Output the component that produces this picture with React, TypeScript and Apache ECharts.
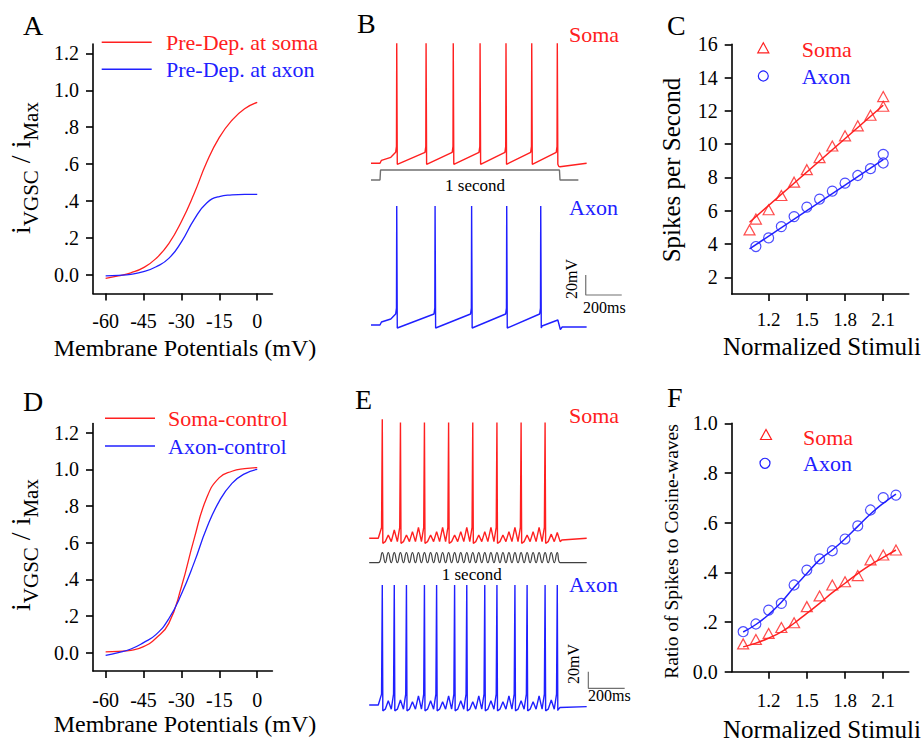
import React, { useEffect, useRef } from 'react';
import * as echarts from 'echarts';

const FONT = "'Liberation Serif', 'Times New Roman', Times, serif";
const RED = '#ff2020';
const BLUE = '#2020ff';
const GRAY = '#707070';

// ---------- Panel A & D (activation curves) ----------
const membraneV = [-60, -55, -50, -45, -40, -35, -30, -25, -20, -15, -10, -5, 0];
const aSomaPreDep = [-0.018, -0.005, 0.012, 0.04, 0.09, 0.17, 0.29, 0.44, 0.61, 0.745, 0.838, 0.9, 0.935];
const aAxonPreDep = [-0.005, -0.002, 0.004, 0.018, 0.045, 0.09, 0.18, 0.3, 0.39, 0.425, 0.434, 0.437, 0.437];
const dSomaControl = [0.004, 0.007, 0.013, 0.033, 0.08, 0.16, 0.36, 0.62, 0.845, 0.955, 0.99, 1.004, 1.01];
const dAxonControl = [-0.015, 0.0, 0.02, 0.055, 0.1, 0.185, 0.32, 0.49, 0.68, 0.827, 0.924, 0.976, 1.0];
const mvTicks = [-60, -45, -30, -15, 0];
const iTicks = [0, 0.2, 0.4, 0.6, 0.8, 1.0, 1.2];

// ---------- Panel C (spikes per second) ----------
const cSomaX = [1.05, 1.1, 1.2, 1.3, 1.4, 1.5, 1.6, 1.7, 1.8, 1.9, 2.0, 2.1, 2.1];
const cSomaY = [4.85, 5.5, 6.06, 6.92, 7.72, 8.47, 9.19, 9.89, 10.5, 11.1, 11.74, 12.28, 12.86];
const cAxonX = [1.1, 1.2, 1.3, 1.4, 1.5, 1.6, 1.7, 1.8, 1.9, 2.0, 2.1, 2.1];
const cAxonY = [3.85, 4.37, 5.05, 5.65, 6.22, 6.7, 7.18, 7.66, 8.12, 8.53, 8.87, 9.39];
const cSomaFitX = [1.05, 2.1];
const cSomaFitY = [5.31, 12.34];
const cAxonFitX = [1.05, 2.1];
const cAxonFitY = [3.71, 9.07];
const spsTicks = [2, 4, 6, 8, 10, 12, 14, 16];
const stimTicks = [1.2, 1.5, 1.8, 2.1];

// ---------- Panel F (ratio of spikes to cosine waves) ----------
const fX = [1.0, 1.1, 1.2, 1.3, 1.4, 1.5, 1.6, 1.7, 1.8, 1.9, 2.0, 2.1, 2.2];
const fSoma = [0.112, 0.13, 0.154, 0.178, 0.197, 0.262, 0.305, 0.349, 0.362, 0.387, 0.45, 0.47, 0.49];
const fAxon = [0.161, 0.192, 0.248, 0.275, 0.349, 0.409, 0.454, 0.487, 0.534, 0.587, 0.651, 0.701, 0.711];
const fSomaFit = [0.1, 0.115, 0.135, 0.16, 0.195, 0.235, 0.275, 0.318, 0.356, 0.395, 0.43, 0.46, 0.49];
const fAxonFit = [0.16, 0.19, 0.23, 0.28, 0.34, 0.395, 0.45, 0.49, 0.535, 0.585, 0.635, 0.678, 0.715];
const ratioTicks = [0, 0.2, 0.4, 0.6, 0.8, 1.0];

// ---------- Panel B (step-current traces, ms / mV) ----------
const bSomaSpikes = [93, 256, 407, 556, 700, 843, 985];
const bAxonSpikes = [93, 306, 509, 704, 893];
const bSomaHead = [[-50, -65], [0, -65], [8, -62], [60, -59]];
const bSomaTail = [[993, -68], [1000, -68.5], [1148, -65]];
const bAxonHead = [[-50, -65], [0, -65], [8, -62], [60, -59]];
const bAxonTail = [[900, -66], [988, -60], [1002, -69.5], [1012, -67], [1148, -67]];
const bStep = [[-50, 0], [0, 0], [3, 1], [997, 1], [1000, 0], [1102, 0]];
const bScaleBar = [[1143, -15], [1143, -35], [1343, -35]];

// ---------- Panel E (cosine-wave stimulus traces, ms / mV) ----------
const eCycleTimes = [22, 55, 88, 122, 155, 188, 221, 254, 288, 321, 354, 387, 420, 454, 487, 520, 553, 586, 620, 653, 686, 719, 752, 786, 819, 852, 885, 918, 952, 985];
const eSomaPeaks = [78, -61, -55, 74, -61, -57, -52, 74, -61, -57, -52, 74, -61, -57, -52, 74, -61, -57, -52, 74, -61, -57, -52, 74, -61, -57, -52, 74, -60, -58];
const eAxonPeaks = [79, -60, 79, -59, 79, -61, -54, 79, -60, 79, -61, -54, 79, -60, 79, -61, -54, 79, -60, 79, -61, -54, 79, -60, 79, -61, -54, 79, -59, 79];
const eHead = [[-50, -65], [0, -65]];
const eSomaTail = [[1001, -69], [1010, -67], [1147, -65]];
const eAxonTail = [[988, -71], [1000, -68], [1147, -67]];
const eStimHead = [[-50, 0], [0, 0]];
const eStimTail = [[1002, 0], [1147, 0]];
const eScaleBar = [[1156, -25], [1156, -45], [1356, -45]];

const pairs = (xs: number[], ys: number[]) => xs.map((x, i) => [x, ys[i]]);

function buildStepTrace(head: number[][], spikes: number[], peak: number, pre: number, trough: number, tail: number[][]) {
  const pts = head.map((p) => p.slice());
  spikes.forEach((s) => {
    pts.push([s - 6, pre - 1], [s - 1.5, pre + 5], [s, peak], [s + 3, trough]);
  });
  return pts.concat(tail);
}

function buildCycleTrace(head: number[][], times: number[], peaks: number[], trough: number, spikeTrough: number, tail: number[][]) {
  const pts = head.map((p) => p.slice());
  times.forEach((t, k) => {
    const p = peaks[k];
    if (p > 0) pts.push([t - 4, -52], [t, p], [t + 3, spikeTrough]);
    else pts.push([t, p]);
    if (k < times.length - 1) pts.push([(t + times[k + 1]) / 2, trough]);
  });
  return pts.concat(tail);
}

function buildStim(head: number[][], times: number[], tail: number[][]) {
  const pts = head.map((p) => p.slice());
  times.forEach((t, k) => {
    pts.push([t, 1]);
    if (k < times.length - 1) pts.push([(t + times[k + 1]) / 2, 0]);
  });
  return pts.concat(tail);
}

const decimalLabel = (v: number) => {
  const s = v.toFixed(1);
  return v > 0 && v < 1 ? s.slice(1) : s;
};

function visibleAxis(gridIndex: number, min: number, max: number, ticks: number[], fmt: (v: number) => string, margin: number, size = 20) {
  return {
    type: 'value',
    gridIndex,
    min,
    max,
    axisLine: { show: true, onZero: false, lineStyle: { color: '#000', width: 1.6 } },
    axisTick: { show: true, inside: false, length: 7, customValues: ticks, lineStyle: { color: '#000', width: 1.6 } },
    axisLabel: { show: true, customValues: ticks, formatter: fmt, margin, fontFamily: FONT, fontSize: size, color: '#000' },
    splitLine: { show: false },
  };
}
function hiddenAxis(gridIndex: number, min: number, max: number) {
  return { type: 'value', gridIndex, min, max, show: false, splitLine: { show: false } };
}

function lineSeries(data: number[][], idx: number, color: string, width: number, smooth: boolean | number = false) {
  return {
    type: 'line',
    data,
    xAxisIndex: idx,
    yAxisIndex: idx,
    showSymbol: false,
    symbol: 'none',
    smooth,
    lineStyle: { color, width },
    silent: true,
    z: 3,
  };
}
function scatterSeries(data: number[][], idx: number, symbol: string, color: string, size: any) {
  return {
    type: 'scatter',
    data,
    xAxisIndex: idx,
    yAxisIndex: idx,
    symbol,
    symbolSize: size,
    itemStyle: { color: 'rgba(0,0,0,0)', borderColor: color, borderWidth: 1.2 },
    silent: true,
    z: 4,
  };
}

function txt(text: string, x: number, y: number, size: number, color = '#000', align = 'left', rotation = 0) {
  return {
    type: 'text',
    x,
    y,
    rotation,
    silent: true,
    style: { text, fontFamily: FONT, fontSize: size, fill: color, align, verticalAlign: 'middle' },
  };
}
function hline(x1: number, y1: number, x2: number, y2: number, color: string) {
  return { type: 'line', silent: true, shape: { x1, y1, x2, y2 }, style: { stroke: color, lineWidth: 1.4 } };
}
function tri(cx: number, cy: number, color: string) {
  return { type: 'polygon', silent: true, shape: { points: [[cx, cy - 5.5], [cx - 5.5, cy + 4.5], [cx + 5.5, cy + 4.5]] }, style: { fill: 'none', stroke: color, lineWidth: 1.2 } };
}
function circ(cx: number, cy: number, color: string) {
  return { type: 'circle', silent: true, shape: { cx, cy, r: 5 }, style: { fill: 'none', stroke: color, lineWidth: 1.2 } };
}
function iTitle(x: number, y: number) {
  return {
    type: 'text',
    x,
    y,
    rotation: Math.PI / 2,
    silent: true,
    style: {
      text: '{m|i}{s|VGSC}{m| / i}{s|Max}',
      align: 'center',
      verticalAlign: 'middle',
      fill: '#000',
      rich: {
        m: { fontFamily: FONT, fontSize: 28, fill: '#000', color: '#000', verticalAlign: 'bottom', padding: [0, 0, 7, 0] },
        s: { fontFamily: FONT, fontSize: 21, fill: '#000', color: '#000', verticalAlign: 'bottom' },
      },
    },
  };
}

export default function App() {
  const ref = useRef<HTMLDivElement>(null);
  useEffect(() => {
    document.body.style.margin = '0';
    if (!ref.current) return;
    const chart = echarts.init(ref.current, null, { renderer: 'svg' });

    const grid = (left: number, top: number, width: number, height: number) => ({ left, top, width, height, containLabel: false, outerBoundsMode: 'none' });
    const grids = [
      grid(93, 44.1, 179.4, 249.4), // 0 A
      grid(93, 423.6, 179.4, 247.4), // 1 D
      grid(731.7, 44.3, 177, 249.7), // 2 C
      grid(731.7, 423.3, 177, 248.4), // 3 F
      grid(371, 38.3, 252, 135), // 4 B soma
      grid(371, 165, 252, 20), // 5 B stim
      grid(371, 200, 252, 135), // 6 B axon
      grid(369.2, 417.5, 256.2, 133.3), // 7 E soma
      grid(369.2, 547.7, 256.2, 20), // 8 E stim
      grid(369.2, 580, 256.2, 137.5), // 9 E axon
    ];
    const mvFmt = (v: number) => String(v);
    const intFmt = (v: number) => String(v);
    const stimFmt = (v: number) => v.toFixed(1);

    const xAxis = [
      visibleAxis(0, -65, 6, mvTicks, mvFmt, 17),
      visibleAxis(1, -65, 6, mvTicks, mvFmt, 19),
      visibleAxis(2, 0.91, 2.3, stimTicks, stimFmt, 16, 19),
      visibleAxis(3, 0.91, 2.3, stimTicks, stimFmt, 19, 19),
      hiddenAxis(4, -50, 1350),
      hiddenAxis(5, -50, 1350),
      hiddenAxis(6, -50, 1350),
      hiddenAxis(7, -50, 1360),
      hiddenAxis(8, -50, 1360),
      hiddenAxis(9, -50, 1360),
    ];
    const yAxis = [
      visibleAxis(0, -0.1, 1.25, iTicks, decimalLabel, 14),
      visibleAxis(1, -0.1, 1.25, iTicks, decimalLabel, 14),
      visibleAxis(2, 1, 16, spsTicks, intFmt, 14),
      visibleAxis(3, 0, 1, ratioTicks, decimalLabel, 14),
      hiddenAxis(4, -75, 60),
      hiddenAxis(5, -0.5, 1.5),
      hiddenAxis(6, -75, 60),
      hiddenAxis(7, -80, 80),
      hiddenAxis(8, -0.5, 1.5),
      hiddenAxis(9, -80, 85),
    ];

    const series = [
      lineSeries(pairs(membraneV, aSomaPreDep), 0, RED, 1.3, true),
      lineSeries(pairs(membraneV, aAxonPreDep), 0, BLUE, 1.3, true),
      lineSeries(pairs(membraneV, dSomaControl), 1, RED, 1.3, true),
      lineSeries(pairs(membraneV, dAxonControl), 1, BLUE, 1.3, true),
      lineSeries(pairs(cSomaFitX, cSomaFitY), 2, RED, 1.5),
      lineSeries(pairs(cAxonFitX, cAxonFitY), 2, BLUE, 1.5),
      scatterSeries(pairs(cSomaX, cSomaY), 2, 'triangle', RED, [11, 10]),
      scatterSeries(pairs(cAxonX, cAxonY), 2, 'circle', BLUE, 10),
      lineSeries(pairs(fX, fSomaFit), 3, RED, 1.5, true),
      lineSeries(pairs(fX, fAxonFit), 3, BLUE, 1.5, true),
      scatterSeries(pairs(fX, fSoma), 3, 'triangle', RED, [11, 10]),
      scatterSeries(pairs(fX, fAxon), 3, 'circle', BLUE, 10),
      lineSeries(buildStepTrace(bSomaHead, bSomaSpikes, 55, -53, -66, bSomaTail), 4, RED, 1.4),
      lineSeries(bStep, 5, GRAY, 1.4),
      lineSeries(buildStepTrace(bAxonHead, bAxonSpikes, 54, -53, -68, bAxonTail), 6, BLUE, 1.4),
      lineSeries(bScaleBar, 6, GRAY, 1.2),
      lineSeries(buildCycleTrace(eHead, eCycleTimes, eSomaPeaks, -69, -71, eSomaTail), 7, RED, 1.4),
      lineSeries(buildStim(eStimHead, eCycleTimes, eStimTail), 8, '#404040', 1.2, true),
      lineSeries(buildCycleTrace(eHead, eCycleTimes, eAxonPeaks, -70, -72, eAxonTail), 9, BLUE, 1.4),
      lineSeries(eScaleBar, 9, GRAY, 1.2),
    ];

    const elements: any[] = [
      // panel letters
      txt('A', 23, 25, 28),
      txt('B', 357, 23, 28),
      txt('C', 667, 25, 28),
      txt('D', 23, 401, 28),
      txt('E', 355, 399, 28),
      txt('F', 667, 397, 28),
      // legend A
      hline(101.7, 42.3, 151.7, 42.3, RED),
      hline(101.7, 69.3, 151.7, 69.3, BLUE),
      txt('Pre-Dep. at soma', 166, 42.5, 22, RED),
      txt('Pre-Dep. at axon', 166, 69.5, 22, BLUE),
      // legend D
      hline(105, 418.3, 155, 418.3, RED),
      hline(105, 446, 155, 446, BLUE),
      txt('Soma-control', 168, 418.5, 22, RED),
      txt('Axon-control', 168, 446, 22, BLUE),
      // legend C
      tri(763.3, 48.3, RED),
      circ(763.3, 76, BLUE),
      txt('Soma', 801.7, 49, 22, RED),
      txt('Axon', 801.7, 76, 22, BLUE),
      // legend F
      tri(766, 435, RED),
      circ(765, 463.3, BLUE),
      txt('Soma', 803, 437, 22, RED),
      txt('Axon', 803, 463.5, 22, BLUE),
      // trace labels B
      txt('Soma', 569, 34, 22, RED),
      txt('Axon', 569, 207, 22, BLUE),
      txt('1 second', 475, 185, 17, '#000', 'center'),
      txt('20mV', 571.5, 279, 16, '#000', 'center', Math.PI / 2),
      txt('200ms', 583, 307, 16),
      // trace labels E
      txt('Soma', 569, 415.5, 22, RED),
      txt('Axon', 569, 584.5, 22, BLUE),
      txt('1 second', 471.7, 574, 17, '#000', 'center'),
      txt('20mV', 573, 664, 16, '#000', 'center', Math.PI / 2),
      txt('200ms', 588, 695, 16),
      // axis titles
      txt('Membrane Potentials (mV)', 185, 348, 24, '#000', 'center'),
      txt('Membrane Potentials (mV)', 185, 724, 24, '#000', 'center'),
      txt('Normalized Stimuli', 822, 346, 25, '#000', 'center'),
      txt('Normalized Stimuli', 822, 729, 25, '#000', 'center'),
      txt('Spikes per Second', 671, 170, 25, '#000', 'center', Math.PI / 2),
      txt('Ratio of Spikes to Cosine-waves', 671.5, 551.5, 19.5, '#000', 'center', Math.PI / 2),
      iTitle(24, 168),
      iTitle(24, 545),
    ];

    chart.setOption({
      animation: false,
      backgroundColor: '#fff',
      grid: grids,
      xAxis,
      yAxis,
      series,
      graphic: { elements },
    });
    return () => chart.dispose();
  }, []);
  return <div ref={ref} style={{ width: 922, height: 742 }} />;
}
